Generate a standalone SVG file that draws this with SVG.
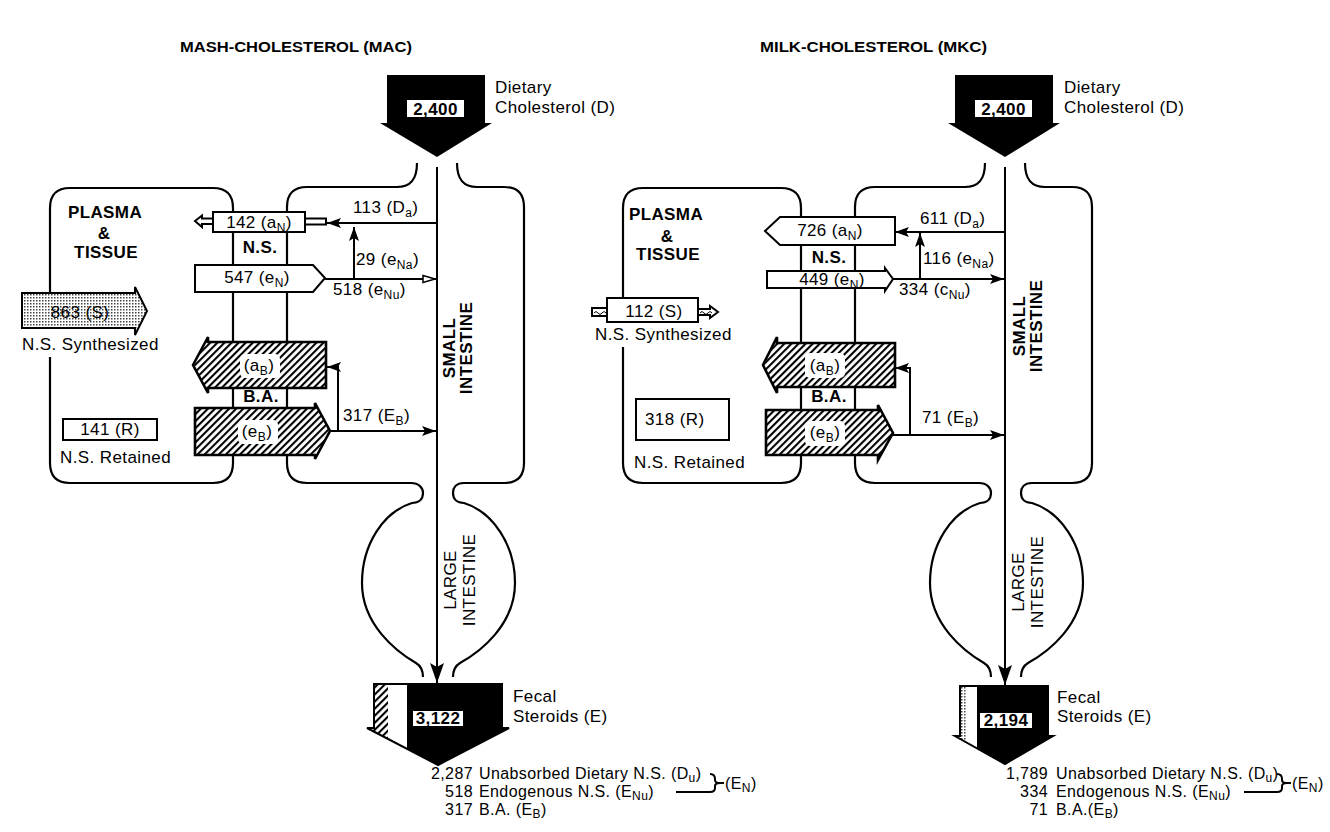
<svg xmlns="http://www.w3.org/2000/svg" width="1330" height="832" viewBox="0 0 1330 832">
<style>
.t{font-family:"Liberation Sans",Arial,sans-serif;font-size:17px;fill:#000;letter-spacing:0.4px}
.b{font-weight:bold}
.s{font-size:12px}
.m{text-anchor:middle}
.e{text-anchor:end}
.bt{font-size:16px}
.w{fill:none;stroke:#000;stroke-width:2.2}
.c{fill:none;stroke:#000;stroke-width:2}
.box{fill:#fff;stroke:#000;stroke-width:2}
.hat{fill:url(#hatch);stroke:#000;stroke-width:2.6}
.ttl{font-family:"Liberation Sans",Arial,sans-serif;font-size:14px;font-weight:bold;fill:#000}
</style>
<defs>
<pattern id="hatch" patternUnits="userSpaceOnUse" width="5" height="5" patternTransform="rotate(45)">
<rect width="5" height="5" fill="#fff"/><line x1="1" y1="0" x2="1" y2="5" stroke="#000" stroke-width="2.2"/>
</pattern>
<pattern id="dots" patternUnits="userSpaceOnUse" width="3" height="3">
<rect width="3" height="3" fill="#fff"/><rect width="1.5" height="1.5" fill="#444"/>
</pattern>
<marker id="ah" viewBox="0 0 14 10" refX="14" refY="5" markerWidth="14" markerHeight="10" markerUnits="userSpaceOnUse" orient="auto">
<path d="M0,0 L14,5 L0,10 L3,5 Z" fill="#000"/>
</marker>
<marker id="ahh" viewBox="0 0 14 10" refX="14" refY="5" markerWidth="14" markerHeight="10" markerUnits="userSpaceOnUse" orient="auto">
<path d="M1,1.5 L13,5 L1,8.5 Z" fill="#fff" stroke="#000" stroke-width="1.5"/>
</marker>
<marker id="ahb" viewBox="0 0 20 14" refX="20" refY="7" markerWidth="20" markerHeight="14" markerUnits="userSpaceOnUse" orient="auto">
<path d="M0,0 L20,7 L0,14 L4,7 Z" fill="#000"/>
</marker>
<clipPath id="fecL"><polygon points="374,684 502,684 502,728 509,728 438,765 367,728 374,728"/></clipPath>
<clipPath id="fecR"><polygon points="392,686 480,686 480,736 485,736 437,764 387,736 392,736"/></clipPath>
</defs>

<!-- ================= LEFT PANEL: MAC ================= -->
<g id="mac">
<text id="mac-title" class="ttl" x="180" y="52" textLength="232" lengthAdjust="spacingAndGlyphs">MASH-CHOLESTEROL (MAC)</text>

<g id="mac-outline">
<path class="w" d="M50,292 L50,208 Q50,188 70,188 L213,188 Q233,188 233,208 L233,463 Q233,483 213,483 L70,483 Q50,483 50,463 L50,357"/>
<path class="w" d="M417,163 C417,179 411,187 397,187 L307,187 Q287,187 287,207 L287,463 Q287,483 307,483 L411,483 C419,483 423,488 423,493 C423,499 419,503 412,503 C383,512 362,545 362,583 C362,625 397,652 416,663 C421,666 423,670 423,677"/>
<path class="w" d="M457,163 C457,179 463,187 477,187 L504,187 Q524,187 524,207 L524,463 Q524,483 504,483 L464,483 C456,483 453,488 453,493 C453,499 457,503 464,503 C493,512 515,545 515,583 C515,625 480,652 460,663 C455,666 453,670 453,677"/>
<text class="t b" x="105" y="218" text-anchor="middle" font-size="16">PLASMA</text>
<text class="t b" x="104" y="239" text-anchor="middle" font-size="16">&amp;</text>
<text class="t b" x="106" y="258" text-anchor="middle" font-size="16">TISSUE</text>
<text class="t b" font-size="15" letter-spacing="1" transform="translate(455,348) rotate(-90)" text-anchor="middle">SMALL</text>
<text class="t b" font-size="15" letter-spacing="1" transform="translate(472,348) rotate(-90)" text-anchor="middle">INTESTINE</text>
<text class="t" font-size="15" letter-spacing="1" transform="translate(456,580) rotate(-90)" text-anchor="middle">LARGE</text>
<text class="t" font-size="15" letter-spacing="1" transform="translate(475,580) rotate(-90)" text-anchor="middle">INTESTINE</text>
<text class="t b" x="260" y="253" text-anchor="middle" font-size="16">N.S.</text>
<text class="t b" x="261" y="402" text-anchor="middle" font-size="16">B.A.</text>
</g>

<g id="mac-connectors">
<line class="c" x1="437" y1="167" x2="437" y2="683" stroke-width="3.5" marker-end="url(#ahb)"/>
<line class="c" x1="437" y1="223" x2="327" y2="223" marker-end="url(#ah)"/>
<line class="c" x1="354" y1="279" x2="354" y2="227" marker-end="url(#ah)"/>
<line class="c" x1="325" y1="279" x2="436" y2="279" marker-end="url(#ahh)"/>
<line class="c" x1="330" y1="431" x2="436" y2="431" marker-end="url(#ah)"/>
<path class="c" d="M338,431 V367 H327" marker-end="url(#ah)"/>
<text class="t" x="353" y="213">113 (D<tspan class="s" dy="4">a</tspan><tspan dy="-4">)</tspan></text>
<text class="t" x="356" y="265">29 (e<tspan class="s" dy="4">Na</tspan><tspan dy="-4">)</tspan></text>
<text class="t" x="333" y="295">518 (e<tspan class="s" dy="4">Nu</tspan><tspan dy="-4">)</tspan></text>
<text class="t" x="343" y="421">317 (E<tspan class="s" dy="4">B</tspan><tspan dy="-4">)</tspan></text>
</g>

<g id="mac-dietary">
<polygon points="387,75 485,75 485,123 492,123 437,157 380,123 387,123" fill="#000"/>
<rect x="407" y="100" width="57" height="17" fill="#fff"/>
<text class="t b m" x="435.5" y="115" font-size="16">2,400</text>
<text class="t" x="495" y="93" font-size="16">Dietary</text>
<text class="t" x="495" y="113" font-size="16">Cholesterol (D)</text>
</g>

<g id="mac-aN">
<path class="box" stroke-width="1.5" d="M195,221 L202,215.5 L202,218.5 L213,218.5 L213,224 L202,224 L202,227 Z"/>
<rect class="box" stroke-width="1.5" x="305" y="218.5" width="21" height="6"/>
<rect class="box" x="213" y="212" width="92" height="20"/>
<text class="t m" x="259" y="228">142 (a<tspan class="s" dy="4">N</tspan><tspan dy="-4">)</tspan></text>
</g>

<g id="mac-eN">
<polygon class="box" points="195,265 313,265 325,278 313,292 195,292"/>
<text class="t m" x="257" y="283">547 (e<tspan class="s" dy="4">N</tspan><tspan dy="-4">)</tspan></text>
</g>

<g id="mac-S">
<polygon points="22,293 135,293 135,287 147,311 135,335 135,328 22,328" fill="url(#dots)" stroke="#000" stroke-width="2"/>
<text class="t m" x="80" y="318">863 (S)</text>
<text class="t" x="22" y="350">N.S. Synthesized</text>
</g>

<g id="mac-aB">
<polygon class="hat" points="193,365 208,337 208,342 326,342 326,388 208,388 208,393"/>
<rect x="240" y="354" width="40" height="24" rx="5" fill="#fff"/>
<text class="t m" x="259" y="371">(a<tspan class="s" dy="4">B</tspan><tspan dy="-4">)</tspan></text>
</g>

<g id="mac-eB">
<polygon class="hat" points="195,408 315,408 315,403 330,431 315,459 315,455 195,455"/>
<rect x="238" y="420" width="40" height="24" rx="5" fill="#fff"/>
<text class="t m" x="257" y="437">(e<tspan class="s" dy="4">B</tspan><tspan dy="-4">)</tspan></text>
</g>

<g id="mac-R">
<rect class="box" stroke-width="3" x="63" y="419" width="94" height="21"/>
<text class="t m" x="110" y="435">141 (R)</text>
<text class="t" x="60" y="463">N.S. Retained</text>
</g>

<g id="mac-fecal">
<polygon points="374,684 502,684 502,728 509,728 438,765 367,728 374,728" fill="#000"/>
<g clip-path="url(#fecL)">
<rect x="366" y="684" width="22" height="90" fill="url(#hatch)"/>
<rect x="388" y="684" width="19" height="90" fill="#fff"/>
</g>
<polygon points="374,684 502,684 502,728 509,728 438,765 367,728 374,728" fill="none" stroke="#000" stroke-width="2"/>
<rect x="413" y="711" width="50" height="15" fill="#fff"/>
<text class="t b m" x="438" y="724" font-size="16">3,122</text>
<text class="t" x="513" y="702" font-size="16">Fecal</text>
<text class="t" x="513" y="722" font-size="16">Steroids (E)</text>
</g>

<g id="mac-breakdown">
<text class="t bt e" x="473" y="779">2,287</text>
<text class="t bt" x="479" y="779">Unabsorbed Dietary N.S. (D<tspan class="s" dy="3">u</tspan><tspan dy="-3">)</tspan></text>
<text class="t bt e" x="473" y="797">518</text>
<text class="t bt" x="479" y="797">Endogenous N.S. (E<tspan class="s" dy="3">Nu</tspan><tspan dy="-3">)</tspan></text>
<text class="t bt e" x="473" y="815">317</text>
<text class="t bt" x="479" y="815">B.A. (E<tspan class="s" dy="3">B</tspan><tspan dy="-3">)</tspan></text>
<path class="c" stroke-width="1.5" d="M676,792 H711 M710,774 Q715,774 715,779 L715,780 Q715,783 720,783 Q715,783 715,786 L715,788 Q715,792 710,792 M720,783 H724"/>
<text class="t bt" x="725" y="789">(E<tspan class="s" dy="3">N</tspan><tspan dy="-3">)</tspan></text>
</g>
</g>

<!-- ================= RIGHT PANEL: MKC ================= -->
<g id="mkc" transform="translate(568,0)">
<text id="mkc-title" class="ttl" x="192" y="52" textLength="227" lengthAdjust="spacingAndGlyphs">MILK-CHOLESTEROL (MKC)</text>

<g id="mkc-outline">
<path class="w" d="M55,298 L55,208 Q55,188 75,188 L213,188 Q233,188 233,208 L233,463 Q233,483 213,483 L75,483 Q55,483 55,463 L55,347"/>
<path class="w" d="M417,163 C417,179 411,187 397,187 L307,187 Q287,187 287,207 L287,463 Q287,483 307,483 L411,483 C419,483 423,488 423,493 C423,499 419,503 412,503 C383,512 362,545 362,583 C362,625 397,652 416,663 C421,666 423,670 423,677"/>
<path class="w" d="M457,163 C457,179 463,187 477,187 L504,187 Q524,187 524,207 L524,463 Q524,483 504,483 L464,483 C456,483 453,488 453,493 C453,499 457,503 464,503 C493,512 515,545 515,583 C515,625 480,652 460,663 C455,666 453,670 453,677"/>
<text class="t b" x="98" y="220" text-anchor="middle" font-size="16">PLASMA</text>
<text class="t b" x="99" y="242" text-anchor="middle" font-size="16">&amp;</text>
<text class="t b" x="100" y="260" text-anchor="middle" font-size="16">TISSUE</text>
<text class="t b" font-size="15" letter-spacing="1" transform="translate(457,326) rotate(-90)" text-anchor="middle">SMALL</text>
<text class="t b" font-size="15" letter-spacing="1" transform="translate(474,326) rotate(-90)" text-anchor="middle">INTESTINE</text>
<text class="t" font-size="15" letter-spacing="1" transform="translate(456,582) rotate(-90)" text-anchor="middle">LARGE</text>
<text class="t" font-size="15" letter-spacing="1" transform="translate(475,582) rotate(-90)" text-anchor="middle">INTESTINE</text>
<text class="t b" x="261" y="263" text-anchor="middle" font-size="16">N.S.</text>
<text class="t b" x="261" y="402" text-anchor="middle" font-size="16">B.A.</text>
</g>

<g id="mkc-connectors">
<line class="c" x1="437" y1="167" x2="437" y2="685" stroke-width="3.5" marker-end="url(#ahb)"/>
<line class="c" x1="437" y1="232" x2="327" y2="232" marker-end="url(#ah)"/>
<line class="c" x1="352" y1="279" x2="352" y2="233" marker-end="url(#ah)"/>
<line class="c" x1="325" y1="279" x2="436" y2="279" marker-end="url(#ah)"/>
<line class="c" x1="325" y1="435" x2="436" y2="435" marker-end="url(#ah)"/>
<path class="c" d="M342,435 V368 H327" marker-end="url(#ah)"/>
<text class="t" x="352" y="224">611 (D<tspan class="s" dy="4">a</tspan><tspan dy="-4">)</tspan></text>
<text class="t" x="355" y="264">116 (e<tspan class="s" dy="4">Na</tspan><tspan dy="-4">)</tspan></text>
<text class="t" x="331" y="295">334 (c<tspan class="s" dy="4">Nu</tspan><tspan dy="-4">)</tspan></text>
<text class="t" x="354" y="423">71 (E<tspan class="s" dy="4">B</tspan><tspan dy="-4">)</tspan></text>
</g>

<g id="mkc-dietary">
<polygon points="387,75 485,75 485,123 492,123 437,157 380,123 387,123" fill="#000"/>
<rect x="407" y="100" width="57" height="17" fill="#fff"/>
<text class="t b m" x="435.5" y="115" font-size="16">2,400</text>
<text class="t" x="496" y="93" font-size="16">Dietary</text>
<text class="t" x="496" y="113" font-size="16">Cholesterol (D)</text>
</g>

<g id="mkc-aN">
<polygon class="box" points="327,217 212,217 197,231 212,245 327,245"/>
<text class="t m" x="262" y="236">726 (a<tspan class="s" dy="4">N</tspan><tspan dy="-4">)</tspan></text>
</g>

<g id="mkc-eN">
<polygon class="box" points="199,271 317,271 317,268 325,279 317,291 317,288 199,288"/>
<text class="t m" x="264" y="285">449 (e<tspan class="s" dy="4">N</tspan><tspan dy="-4">)</tspan></text>
</g>

<g id="mkc-S">
<rect class="box" stroke-width="1.5" x="24" y="308" width="15" height="8"/>
<path d="M26,313 q2,-3 4,0 t4,0 t4,0" fill="none" stroke="#000" stroke-width="1"/>
<path class="box" stroke-width="1.5" d="M130,309 H142 V306 L150,312 L142,318 V315 H130 Z"/>
<path d="M132,313 q2,-3 4,0 t4,0 t4,0" fill="none" stroke="#000" stroke-width="1"/>
<rect class="box" x="39" y="298" width="91" height="24"/>
<text class="t m" x="86" y="317">112 (S)</text>
<text class="t" x="27" y="340">N.S. Synthesized</text>
</g>

<g id="mkc-aB">
<polygon class="hat" points="195,365 209,337 209,343 327,343 327,387 209,387 209,393"/>
<rect x="237" y="353" width="40" height="25" rx="5" fill="#fff"/>
<text class="t m" x="257" y="371">(a<tspan class="s" dy="4">B</tspan><tspan dy="-4">)</tspan></text>
</g>

<g id="mkc-eB">
<polygon class="hat" points="198,410 310,410 310,405 325,433 310,460 310,455 198,455"/>
<rect x="237" y="421" width="40" height="25" rx="5" fill="#fff"/>
<text class="t m" x="257" y="438">(e<tspan class="s" dy="4">B</tspan><tspan dy="-4">)</tspan></text>
</g>

<g id="mkc-R">
<rect class="box" stroke-width="3" x="68" y="399" width="93" height="41"/>
<text class="t" x="77" y="425">318 (R)</text>
<text class="t" x="66" y="468">N.S. Retained</text>
</g>

<g id="mkc-fecal">
<polygon points="392,686 480,686 480,736 485,736 437,764 387,736 392,736" fill="#000"/>
<g clip-path="url(#fecR)">
<rect x="386" y="686" width="13" height="85" fill="url(#dots)"/>
<rect x="399" y="686" width="10" height="85" fill="#fff"/>
</g>
<polygon points="392,686 480,686 480,736 485,736 437,764 387,736 392,736" fill="none" stroke="#000" stroke-width="2"/>
<rect x="412" y="713" width="52" height="15" fill="#fff"/>
<text class="t b m" x="438" y="726" font-size="16">2,194</text>
<text class="t" x="489" y="703" font-size="16">Fecal</text>
<text class="t" x="489" y="722" font-size="16">Steroids (E)</text>
</g>

<g id="mkc-breakdown">
<text class="t bt e" x="480" y="779" letter-spacing="0">1,789</text>
<text class="t bt" x="488" y="779" letter-spacing="0">Unabsorbed Dietary N.S. (D<tspan class="s" dy="3">u</tspan><tspan dy="-3">)</tspan></text>
<text class="t bt e" x="480" y="797" letter-spacing="0">334</text>
<text class="t bt" x="488" y="797" letter-spacing="0">Endogenous N.S. (E<tspan class="s" dy="3">Nu</tspan><tspan dy="-3">)</tspan></text>
<text class="t bt e" x="480" y="815" letter-spacing="0">71</text>
<text class="t bt" x="488" y="815" letter-spacing="0">B.A.(E<tspan class="s" dy="3">B</tspan><tspan dy="-3">)</tspan></text>
<path class="c" stroke-width="1.5" d="M676,792 H710 M709,774 Q714,774 714,779 L714,780 Q714,783 719,783 Q714,783 714,786 L714,788 Q714,792 709,792 M719,783 H723"/>
<text class="t bt" x="724" y="789" letter-spacing="0">(E<tspan class="s" dy="3">N</tspan><tspan dy="-3">)</tspan></text>
</g>
</g>
</svg>
